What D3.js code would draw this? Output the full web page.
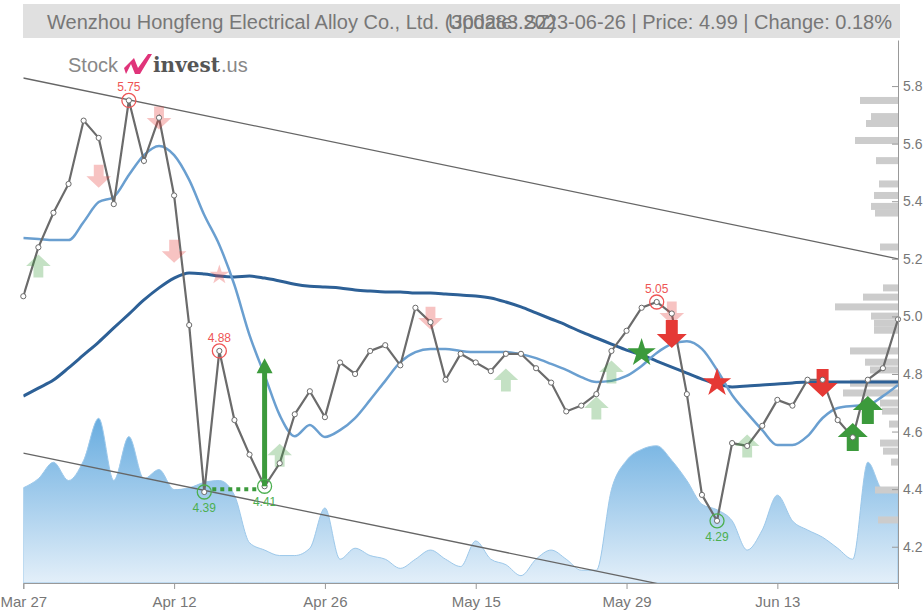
<!DOCTYPE html>
<html>
<head>
<meta charset="utf-8">
<script src="https://cdn.jsdelivr.net/npm/d3@7"></script>
<style>
    body { margin: 0; background: #fff; font-family: "Liberation Sans", Arial, sans-serif; }
    .axis text { fill: #777; font-family: "Liberation Sans", Arial, sans-serif; }
    .axis path, .axis line { stroke: #999; }
</style>
</head>
<body>
<div id="chart"></div>
<script>
// closing prices, one per trading day
const price = [5.07, 5.24, 5.36, 5.46, 5.68, 5.62, 5.39, 5.75, 5.54, 5.69,
    5.42, 4.97, 4.39, 4.88, 4.64, 4.52, 4.41, 4.49, 4.66, 4.74,
    4.65, 4.84, 4.80, 4.88, 4.90, 4.83, 5.03, 4.98, 4.78, 4.87,
    4.84, 4.81, 4.87, 4.87, 4.82, 4.77, 4.67, 4.69, 4.73, 4.88,
    4.95, 5.03, 5.05, 5.01, 4.73, 4.38, 4.29, 4.56, 4.55, 4.62,
    4.71, 4.69, 4.78, 4.78, 4.64, 4.58, 4.78, 4.82, 4.99];

const maShort = [5.272, 5.269, 5.265, 5.265, 5.328, 5.397, 5.415, 5.491, 5.560, 5.592,
    5.560, 5.474, 5.352, 5.248, 5.109, 4.935, 4.796, 4.657, 4.584, 4.623,
    4.581, 4.605, 4.647, 4.710, 4.776, 4.841, 4.876, 4.887, 4.887, 4.880,
    4.876, 4.876, 4.876, 4.869, 4.855, 4.835, 4.814, 4.789, 4.772, 4.776,
    4.793, 4.828, 4.873, 4.904, 4.914, 4.887, 4.814, 4.727, 4.664, 4.605,
    4.553, 4.553, 4.584, 4.647, 4.682, 4.689, 4.692, 4.723, 4.762];

const maLong = [4.723, 4.751, 4.779, 4.821, 4.866, 4.911, 4.960, 5.008, 5.057, 5.099,
    5.133, 5.151, 5.147, 5.140, 5.137, 5.140, 5.133, 5.123, 5.112, 5.105,
    5.102, 5.099, 5.092, 5.088, 5.085, 5.085, 5.081, 5.081, 5.078, 5.074,
    5.071, 5.064, 5.050, 5.033, 5.012, 4.991, 4.970, 4.946, 4.925, 4.904,
    4.883, 4.866, 4.845, 4.824, 4.803, 4.782, 4.765, 4.755, 4.758, 4.762,
    4.765, 4.769, 4.772, 4.772, 4.772, 4.772, 4.772, 4.772, 4.772];

const volume = [52, 57, 66, 56, 67, 90, 56, 80, 57, 62,
    51, 52, 55, 56, 48, 22, 18, 15, 15, 19,
    41, 13, 19, 15, 13, 8, 13, 18, 13, 9,
    23, 13, 10, 4, 13, 18, 13, 7, 7, 51,
    67, 73, 75, 67, 56, 43, 40, 34, 18, 29,
    48, 34, 29, 25, 19, 13, 66, 51, 51];

const tickIdx = [0, 10, 20, 30, 40, 50];
const tickLabels = ["Mar 27", "Apr 12", "Apr 26", "May 15", "May 29", "Jun 13"];
const priceTicks = [4.2, 4.4, 4.6, 4.8, 5.0, 5.2, 5.4, 5.6, 5.8];

// volume by price (right side histogram)
const profileLevels = [5.750, 5.694, 5.670, 5.611, 5.541, 5.460, 5.420, 5.382, 5.359, 5.241,
    5.099, 5.067, 5.033, 5.001, 4.976, 4.952, 4.880, 4.841, 4.814, 4.768,
    4.734, 4.699, 4.671, 4.626, 4.560, 4.532, 4.494, 4.397, 4.293];
const profileVolume = [38, 27, 32, 43, 22, 19, 24, 27, 23, 18,
    15, 35, 63, 27, 24, 24, 48, 33, 28, 48,
    55, 18, 16, 9, 18, 15, 7, 23, 20];

const highs = [[7, 5.75], [13, 4.88], [42, 5.05]];
const lows = [[12, 4.39], [16, 4.41], [46, 4.29]];

const trendUpper = [[0, 5.828], [58, 5.200]];
const trendLower = [[0, 4.525], [58, 3.900]];

const signalIdx = [1, 5, 9, 10, 13, 17, 27, 32, 38, 39, 43, 48, 41, 43, 46, 53, 55, 56];
const signalVal = [5.175, 5.487, 5.689, 5.226, 5.144, 4.518, 4.994, 4.779, 4.682, 4.807, 5.012, 4.550,
    4.873, 4.939, 4.769, 4.769, 4.581, 4.675];
const signalKind = ["buy", "sell", "sell", "sell", "sellStar", "buy", "sell", "buy", "buy", "buy", "sell", "buy",
    "buyStar", "sell", "sellStar", "sell", "buy", "buy"];
const signalStrong = [0, 0, 0, 0, 0, 0, 0, 0, 0, 0, 0, 0, 1, 1, 1, 1, 1, 1];

const breakout = { idx: 16, from: 4.41, to: 4.855, supportFrom: 12, supportLevel: 4.40 };

const title = "Wenzhou Hongfeng Electrical Alloy Co., Ltd. (300283.SZ)";
const subtitle = "Update: 2023-06-26 | Price: 4.99 | Change: 0.18%";

const W = 923, H = 610;
const plot = { left: 23.3, right: 898, top: 40, bottom: 583 };
const colors = {
    price: "#6b6b6b",
    maShort: "#6a9fd0",
    maLong: "#2d6096",
    red: "#e53935",
    green: "#3c9a3c",
    profile: "#cccccc"
};

const svg = d3.select("#chart").append("svg")
    .attr("width", W)
    .attr("height", H);

const x = d3.scaleLinear().domain([0, price.length - 1]).range([plot.left, plot.right]);
const y = d3.scaleLinear().domain([4.074, 5.96]).range([plot.bottom, plot.top]);
const yVol = d3.scaleLinear().domain([0, 100]).range([plot.bottom, plot.bottom - 183]);
const wProfile = d3.scaleLinear().domain([0, 100]).range([0, 100]);

const defs = svg.append("defs");
defs.append("clipPath").attr("id", "plotClip")
    .append("rect")
    .attr("x", plot.left).attr("y", plot.top)
    .attr("width", plot.right - plot.left).attr("height", plot.bottom - plot.top);

const volGrad = defs.append("linearGradient")
    .attr("id", "volGrad")
    .attr("gradientUnits", "userSpaceOnUse")
    .attr("x1", 0).attr("x2", 0)
    .attr("y1", yVol(100)).attr("y2", plot.bottom);
volGrad.append("stop").attr("offset", "0%").attr("stop-color", "#5aa5dd");
volGrad.append("stop").attr("offset", "100%").attr("stop-color", "#e3eff9");

const g = svg.append("g").attr("clip-path", "url(#plotClip)");

// volume area
g.append("path")
    .datum(volume)
    .attr("fill", "url(#volGrad)")
    .attr("stroke", "#9cc8ea")
    .attr("stroke-width", 1)
    .attr("d", d3.area()
        .x((d, i) => x(i))
        .y0(plot.bottom)
        .y1(d => yVol(d))
        .curve(d3.curveMonotoneX));

// volume profile
g.append("g").selectAll("rect")
    .data(profileLevels)
    .enter().append("rect")
        .attr("x", (d, i) => plot.right - wProfile(profileVolume[i]))
        .attr("y", d => y(d) - 3.5)
        .attr("width", (d, i) => wProfile(profileVolume[i]))
        .attr("height", 7)
        .attr("fill", colors.profile);

// trend lines
const trendLine = d3.line().x(d => x(d[0])).y(d => y(d[1]));
[trendUpper, trendLower].forEach(t => {
    g.append("path")
        .attr("d", trendLine(t))
        .attr("stroke", "#666")
        .attr("stroke-width", 1.3)
        .attr("fill", "none");
});

// moving averages
const maLine = d3.line().x((d, i) => x(i)).y(d => y(d)).curve(d3.curveMonotoneX);
g.append("path").datum(maLong)
    .attr("d", maLine)
    .attr("fill", "none")
    .attr("stroke", colors.maLong)
    .attr("stroke-width", 3);
g.append("path").datum(maShort)
    .attr("d", maLine)
    .attr("fill", "none")
    .attr("stroke", colors.maShort)
    .attr("stroke-width", 2.5);

// signals
function arrowPath(s){
    // up arrow centred at 0,0
    const hw = 15 * s, sw = 6 * s, h = 14 * s;
    return `M0,${-h} L${hw},0 L${sw},0 L${sw},${h} L${-sw},${h} L${-sw},0 L${-hw},0 Z`;
}
const sigGroup = svg.append("g");
signalIdx.forEach((idx, k) => {
    const kind = signalKind[k];
    const strong = signalStrong[k] === 1;
    const isBuy = kind.startsWith("buy");
    const col = isBuy ? colors.green : colors.red;
    const opacity = strong ? 1 : 0.3;
    const node = sigGroup.append("path")
        .attr("fill", col)
        .attr("fill-opacity", opacity);
    if(kind.endsWith("Star")){
        const size = strong ? 250 : 120;
        node.attr("d", d3.symbol(d3.symbolStar, size)())
            .attr("transform", `translate(${x(idx)},${y(signalVal[k])})`);
    }
    else{
        const s = strong ? 1 : 0.82;
        node.attr("d", arrowPath(s))
            .attr("transform", `translate(${x(idx)},${y(signalVal[k])})` + (isBuy ? "" : " rotate(180)"));
    }
});

// price line
g.append("path").datum(price)
    .attr("d", d3.line().x((d, i) => x(i)).y(d => y(d)))
    .attr("fill", "none")
    .attr("stroke", colors.price)
    .attr("stroke-width", 2.2);
svg.append("g").selectAll("circle")
    .data(price)
    .enter().append("circle")
        .attr("cx", (d, i) => x(i))
        .attr("cy", d => y(d))
        .attr("r", 2.6)
        .attr("fill", "#fff")
        .attr("stroke", colors.price)
        .attr("stroke-width", 1);

// breakout arrow and support dots
svg.append("line")
    .attr("x1", x(breakout.supportFrom) + 8).attr("x2", x(breakout.idx) - 8)
    .attr("y1", y(breakout.supportLevel)).attr("y2", y(breakout.supportLevel))
    .attr("stroke", colors.green)
    .attr("stroke-width", 4)
    .attr("stroke-dasharray", "4,4");
svg.append("line")
    .attr("x1", x(breakout.idx)).attr("x2", x(breakout.idx))
    .attr("y1", y(breakout.from)).attr("y2", y(breakout.to) + 12)
    .attr("stroke", colors.green)
    .attr("stroke-width", 5);
svg.append("path")
    .attr("d", `M${x(breakout.idx)},${y(breakout.to)} l8,15 l-16,0 Z`)
    .attr("fill", colors.green);

// high / low markers
function markers(list, col, dy){
    const grp = svg.append("g");
    grp.selectAll("circle").data(list).enter().append("circle")
        .attr("cx", d => x(d[0]))
        .attr("cy", d => y(d[1]))
        .attr("r", 7)
        .attr("fill", "none")
        .attr("stroke", col)
        .attr("stroke-width", 1.3);
    grp.selectAll("text").data(list).enter().append("text")
        .attr("x", d => x(d[0]))
        .attr("y", d => y(d[1]) + dy)
        .attr("text-anchor", "middle")
        .attr("font-size", 12)
        .attr("fill", col)
        .text(d => d[1].toFixed(2));
}
markers(highs, "#ee5555", -9);
markers(lows, "#4caf50", 20);

// axes
const xAxis = svg.append("g")
    .attr("class", "axis")
    .attr("transform", `translate(0,${plot.bottom})`)
    .call(d3.axisBottom(x)
        .tickValues(tickIdx)
        .tickFormat((d, i) => tickLabels[i])
        .tickSize(6));
xAxis.selectAll("text").attr("font-size", 15).attr("dy", "1.0em");

const yAxis = svg.append("g")
    .attr("class", "axis")
    .attr("transform", `translate(${plot.right},0)`)
    .call(d3.axisRight(y)
        .tickValues(priceTicks)
        .tickFormat(d3.format(".1f"))
        .tickSizeInner(-6)
        .tickSizeOuter(0)
        .tickPadding(5));
yAxis.selectAll("text").attr("font-size", 14);

// title bar (the two texts overlap in the original too)
svg.append("rect")
    .attr("x", 23).attr("y", 4)
    .attr("width", 877).attr("height", 34)
    .attr("fill", "#e0e0e0");
svg.append("text")
    .attr("x", 47).attr("y", 29)
    .attr("font-size", 20)
    .attr("fill", "#777")
    .text(title);
svg.append("text")
    .attr("x", 892).attr("y", 29)
    .attr("text-anchor", "end")
    .attr("font-size", 20)
    .attr("fill", "#777")
    .text(subtitle);

// logo
const logo = svg.append("g").attr("transform", "translate(68,72)");
logo.append("text").attr("x", 0).attr("y", 0)
    .attr("font-size", 20).attr("fill", "#888").text("Stock");
logo.append("path")
    .attr("d", "M56,-4 L66,-14 L70,-4 L80,-18 L84,-18 L72,2 L67,2 L63,-8 L58,2 Z")
    .attr("fill", "#e0347a");
logo.append("text").attr("x", 85).attr("y", 0)
    .attr("font-size", 20).attr("font-weight", "bold")
    .attr("font-family", "DejaVu Serif, serif")
    .attr("fill", "#555").text("invest");
logo.append("text").attr("x", 153).attr("y", 0)
    .attr("font-size", 20).attr("fill", "#888").text(".us");
</script>
</body>
</html>
